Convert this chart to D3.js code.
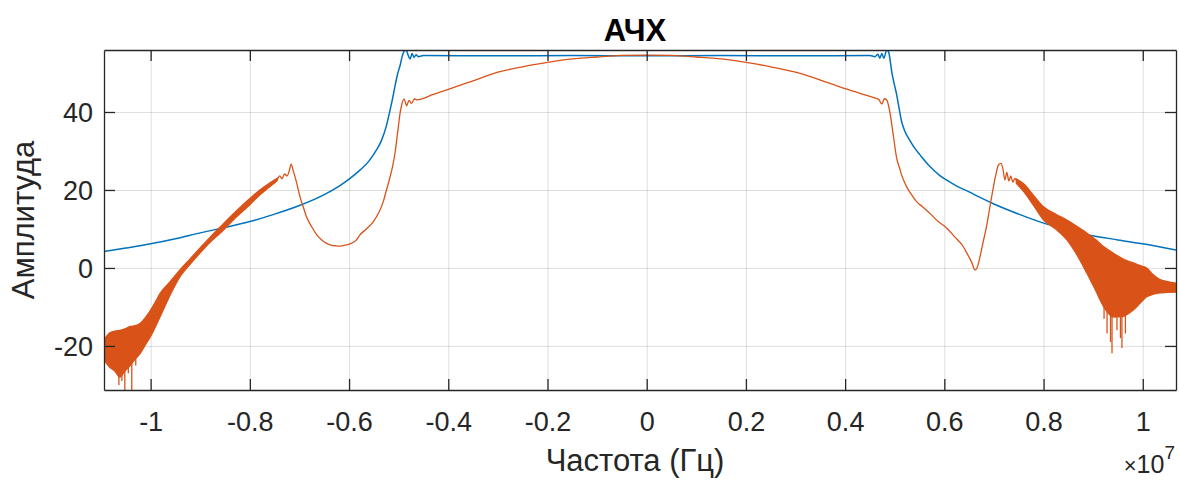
<!DOCTYPE html>
<html>
<head>
<meta charset="utf-8">
<script src="https://cdn.jsdelivr.net/npm/d3@7"></script>
<style>
  body { margin: 0; background: #fff; }
  text { font-family: "Liberation Sans", Arial, sans-serif; }
</style>
</head>
<body>
<script>
// Chart size
const W = 1179, H = 480;
const margin = {top: 50, right: 3, bottom: 90, left: 104};
const width = W - margin.left - margin.right;
const height = H - margin.top - margin.bottom;

// Axis limits (frequency in units of 1e7 Hz)
const xLim = [-1.094, 1.067];
const yLim = [-31.3, 55.9];
const xTicks = [-1, -0.8, -0.6, -0.4, -0.2, 0, 0.2, 0.4, 0.6, 0.8, 1];
const yTicks = [-20, 0, 20, 40];

// Blue curve: ideal filter response
const blueFreq = [-1.094, -1.05, -1.0, -0.95, -0.9, -0.85, -0.8, -0.75, -0.7, -0.65, -0.62, -0.6, -0.578, -0.56, -0.545, -0.535,
  -0.525, -0.518, -0.512, -0.507, -0.502, -0.497, -0.493, -0.489, -0.485,
  -0.481, -0.477, -0.473, -0.469, -0.465, -0.460, -0.45, -0.3, -0.15, 0, 0.15, 0.3, 0.45,
  0.460, 0.466, 0.470, 0.474, 0.478, 0.484, 0.488, 0.491, 0.494, 0.499, 0.504, 0.509, 0.514, 0.52, 0.531, 0.541, 0.551,
  0.571, 0.591, 0.605, 0.625, 0.65, 0.675, 0.7, 0.75, 0.8, 0.85, 0.887, 0.95, 1.0, 1.067];
const blueAmp = [4.2, 5.1, 6.2, 7.5, 9.0, 10.4, 11.9, 13.8, 16.0, 18.8, 21.0, 22.8, 25.1, 27.4, 30.2, 32.6,
  36.3, 40.1, 43.6, 46.9, 49.8, 52.0, 54.2, 55.6, 55.9,
  54.6, 53.6, 55.0, 54.0, 54.7, 54.2, 54.5, 54.4, 54.5, 54.4, 54.5, 54.4, 54.5,
  54.2, 54.8, 53.8, 55.0, 53.8, 55.9, 55.3, 53.0, 50.3, 47.2, 44.4, 40.8, 37.5, 35.2, 32.6, 30.6, 29.0,
  26.0, 23.7, 22.5, 21.0, 19.5, 17.9, 16.4, 13.8, 11.5, 9.8, 8.6, 7.2, 6.2, 4.6];

// Orange curve: measured response (centre line)
const orangeFreq = [-1.094, -1.06, -1.02, -1.0, -0.98, -0.94, -0.9, -0.86, -0.8, -0.76, -0.745, -0.740, -0.735, -0.730, -0.725, -0.720, -0.717,
  -0.712, -0.705, -0.699, -0.692, -0.686, -0.675, -0.665, -0.655, -0.645, -0.635, -0.628, -0.62, -0.61, -0.598, -0.585, -0.578,
  -0.565, -0.551, -0.54, -0.531, -0.525, -0.518, -0.512, -0.507, -0.504, -0.501, -0.498, -0.494,
  -0.489, -0.484, -0.479, -0.474, -0.468, -0.464, -0.43, -0.4, -0.35, -0.3, -0.25, -0.2, -0.15, -0.1, -0.05, 0,
  0.05, 0.1, 0.15, 0.2, 0.25, 0.3, 0.35, 0.4, 0.43, 0.46,
  0.468, 0.474, 0.479, 0.484, 0.490, 0.497, 0.504, 0.51, 0.514, 0.52, 0.524, 0.535, 0.544, 0.555, 0.571, 0.585, 0.605, 0.62,
  0.638, 0.648, 0.655, 0.662, 0.668, 0.672, 0.678, 0.685, 0.692, 0.699, 0.704, 0.709, 0.714,
  0.718, 0.722, 0.726, 0.730, 0.734, 0.738, 0.742, 0.75, 0.8, 0.847, 0.887, 0.921, 0.941, 0.981, 1.008, 1.035, 1.067];
const orangeAmp = [-21, -22, -18, -14, -9.5, -1.4, 4.6, 9.7, 17.0, 21.0, 22.6, 23.6, 22.9, 24.1, 23.6, 25.2, 26.6,
  24.7, 21.5, 18.3, 15.5, 13.2, 10.5, 8.5, 7.2, 6.3, 5.8, 5.7, 5.6, 5.8, 6.2, 7.2, 8.5,
  10.0, 11.9, 14.2, 17.0, 19.8, 23.0, 26.2, 29.8, 32.8, 35.8, 39.0, 41.8,
  43.3, 41.6, 43.0, 42.2, 43.4, 43.1, 44.5, 45.8, 48.0, 50.2, 51.6, 52.7, 53.6, 54.1, 54.5, 54.6,
  54.5, 54.1, 53.6, 52.7, 51.6, 50.2, 48.2, 46.0, 44.8, 43.6,
  43.2, 42.0, 43.4, 43.1, 40.1, 34.1, 28.1, 25.5, 23.8, 21.9, 20.8, 18.6, 17.0, 15.8, 14.0, 12.2, 10.2, 8.1,
  5.5, 3.2, 1.5, -0.5, 0.8, 2.9, 6.5, 10.6, 15.8, 20.8, 24.0, 26.4, 26.8,
  25.5, 22.6, 24.5, 22.3, 23.6, 22.0, 22.9, 21.5, 14.0, 9.5, 4.0, -2.0, -4.0, -4.5, -3.7, -4.7, -5.0];

// Orange noise band, left side (envelope)
const noiseLeftFreq = [-1.094, -1.083, -1.072, -1.062, -1.052, -1.041, -1.031, -1.021, -1.01, -1.0, -0.99, -0.981, -0.96, -0.941, -0.92,
  -0.9, -0.88, -0.86, -0.83, -0.8, -0.78, -0.76, -0.745];
const noiseLeftHi = [-18.5, -16.7, -16.2, -16.0, -15.6, -15.0, -14.8, -14.2, -12.6, -10.8, -8.6, -6.5, -3.4, -0.5, 2.4,
  5.2, 7.9, 10.5, 14.3, 17.8, 20.0, 21.8, 23.0];
const noiseLeftLo = [-23.6, -25.4, -26.5, -28.0, -26.5, -25.0, -23.4, -21.9, -19.6, -17.6, -15.0, -12.6, -6.8, -2.3, 1.0,
  3.9, 6.6, 8.9, 12.7, 16.2, 18.7, 20.8, 22.4];

// Orange noise band, right side (envelope)
const noiseRightFreq = [0.745, 0.76, 0.78, 0.8, 0.825, 0.847, 0.867, 0.887, 0.905, 0.921, 0.941, 0.958, 0.97, 0.981, 0.995, 1.008,
  1.02, 1.035, 1.05, 1.067];
const noiseRightHi = [22.9, 21.6, 18.6, 15.7, 13.8, 12.3, 10.7, 9.0, 7.3, 5.5, 3.8, 2.5, 1.8, 1.3, 0.6, 0.0,
  -1.6, -3.0, -3.5, -3.9];
const noiseRightLo = [21.7, 19.6, 16.0, 12.3, 9.9, 7.2, 3.4, -1.3, -5.8, -9.9, -12.6, -12.5, -11.8, -10.8, -9.0, -7.4,
  -6.8, -6.4, -6.3, -6.2];

// Deep spikes inside the noise bands
const spikeFreq = [-1.064, -1.058, -1.052, -1.045, -1.038, -1.03, 0.922, 0.928, 0.935, 0.938, 0.948, 0.955, 0.958, 0.965];
const spikeTop = [-22, -20, -20, -19, -18, -17, -8, -8, -9, -10, -11, -10, -10, -9];
const spikeBottom = [-30, -29, -31.3, -27, -31.3, -25, -13, -16.8, -19, -21.9, -16, -18, -20.5, -16.8];

const svg = d3.select("body").append("svg")
    .attr("width", W)
    .attr("height", H);

const g = svg.append("g")
    .attr("transform", `translate(${margin.left}, ${margin.top})`);

const x = d3.scaleLinear().domain(xLim).range([0, width]);
const y = d3.scaleLinear().domain(yLim).range([height, 0]);

const fmt = d => String(+d.toFixed(1));

// Grid lines
g.append("g")
    .attr("class", "grid")
    .attr("transform", `translate(0, ${height})`)
    .call(d3.axisBottom(x).tickValues(xTicks).tickSize(-height).tickFormat(""));
g.append("g")
    .attr("class", "grid")
    .call(d3.axisLeft(y).tickValues(yTicks).tickSize(-width).tickFormat(""));
g.selectAll(".grid .domain").remove();
g.selectAll(".grid line").attr("stroke", "#262626").attr("stroke-opacity", 0.15).attr("stroke-width", 1);

// Clip to the plot box
svg.append("defs").append("clipPath").attr("id", "clip")
    .append("rect").attr("width", width).attr("height", height);
const plot = g.append("g").attr("clip-path", "url(#clip)");

const line = d3.line().x(d => x(d[0])).y(d => y(d[1])).curve(d3.curveMonotoneX);

// Blue line
const blueData = blueFreq.map((f, i) => [f, blueAmp[i]]);
plot.append("path")
    .datum(blueData)
    .attr("fill", "none")
    .attr("stroke", "#0072BD")
    .attr("stroke-width", 1.5)
    .attr("stroke-linejoin", "round")
    .attr("d", line);

// Orange line
const orangeData = orangeFreq.map((f, i) => [f, orangeAmp[i]]);
plot.append("path")
    .datum(orangeData)
    .attr("fill", "none")
    .attr("stroke", "#D95319")
    .attr("stroke-width", 1.3)
    .attr("stroke-linejoin", "round")
    .attr("d", line);

// Noise bands
const band = d3.area().x(d => x(d.f)).y0(d => y(d.lo)).y1(d => y(d.hi)).curve(d3.curveMonotoneX);
const leftBand = noiseLeftFreq.map((f, i) => ({f: f, hi: noiseLeftHi[i], lo: noiseLeftLo[i]}));
const rightBand = noiseRightFreq.map((f, i) => ({f: f, hi: noiseRightHi[i], lo: noiseRightLo[i]}));
[leftBand, rightBand].forEach(b => {
    plot.append("path")
        .datum(b)
        .attr("fill", "#D95319")
        .attr("stroke", "#D95319")
        .attr("stroke-width", 1.2)
        .attr("d", band);
});

// Spikes
plot.selectAll(".spike")
    .data(spikeFreq.map((f, i) => ({f: f, top: spikeTop[i], bottom: spikeBottom[i]})))
    .enter()
    .append("line")
    .attr("class", "spike")
    .attr("x1", d => x(d.f)).attr("x2", d => x(d.f))
    .attr("y1", d => y(d.top)).attr("y2", d => y(d.bottom))
    .attr("stroke", "#D95319")
    .attr("stroke-width", 1.3);

// Axes (ticks inside, box on)
const tickLen = 11;
const xAxis = g.append("g")
    .attr("transform", `translate(0, ${height})`)
    .call(d3.axisBottom(x).tickValues(xTicks).tickSizeInner(-tickLen).tickSizeOuter(0).tickPadding(41).tickFormat(fmt));
g.append("g")
    .call(d3.axisTop(x).tickValues(xTicks).tickSizeInner(-tickLen).tickSizeOuter(0).tickFormat(""));
const yAxis = g.append("g")
    .call(d3.axisLeft(y).tickValues(yTicks).tickSizeInner(-tickLen).tickSizeOuter(0).tickPadding(11).tickFormat(fmt));
g.append("g")
    .attr("transform", `translate(${width}, 0)`)
    .call(d3.axisRight(y).tickValues(yTicks).tickSizeInner(-tickLen).tickSizeOuter(0).tickFormat(""));

g.selectAll(".domain").attr("stroke", "#262626").attr("stroke-width", 1.3);
g.selectAll(".tick line").filter(function() { return !this.parentNode.parentNode.classList.contains("grid"); })
    .attr("stroke", "#262626").attr("stroke-width", 1.3);
g.selectAll(".tick text").attr("fill", "#262626").style("font-size", "27px")
    .style("font-family", '"Liberation Sans", Arial, sans-serif');
xAxis.selectAll(".tick text").attr("dy", "0");
yAxis.selectAll(".tick text").attr("dy", "0.36em");

// Title
svg.append("text")
    .attr("x", margin.left + width / 2 - 5)
    .attr("y", 41)
    .attr("text-anchor", "middle")
    .style("font-size", "31px")
    .style("font-weight", "bold")
    .attr("fill", "#000")
    .text("АЧХ");

// Axis labels
svg.append("text")
    .attr("x", margin.left + width / 2 - 5)
    .attr("y", 471)
    .attr("text-anchor", "middle")
    .style("font-size", "31px")
    .attr("fill", "#262626")
    .text("Частота (Гц)");

svg.append("text")
    .attr("transform", `translate(34, ${margin.top + height / 2}) rotate(-90)`)
    .attr("text-anchor", "middle")
    .style("font-size", "31px")
    .attr("fill", "#262626")
    .text("Амплитуда");

// Exponent label
const expo = svg.append("text")
    .attr("x", 1175)
    .attr("y", 473)
    .attr("text-anchor", "end")
    .attr("fill", "#262626")
    .style("font-size", "25px");
expo.append("tspan").style("font-size", "22px").text("×");
expo.append("tspan").text("10");
expo.append("tspan").attr("dy", -14).style("font-size", "19px").text("7");
</script>
</body>
</html>
